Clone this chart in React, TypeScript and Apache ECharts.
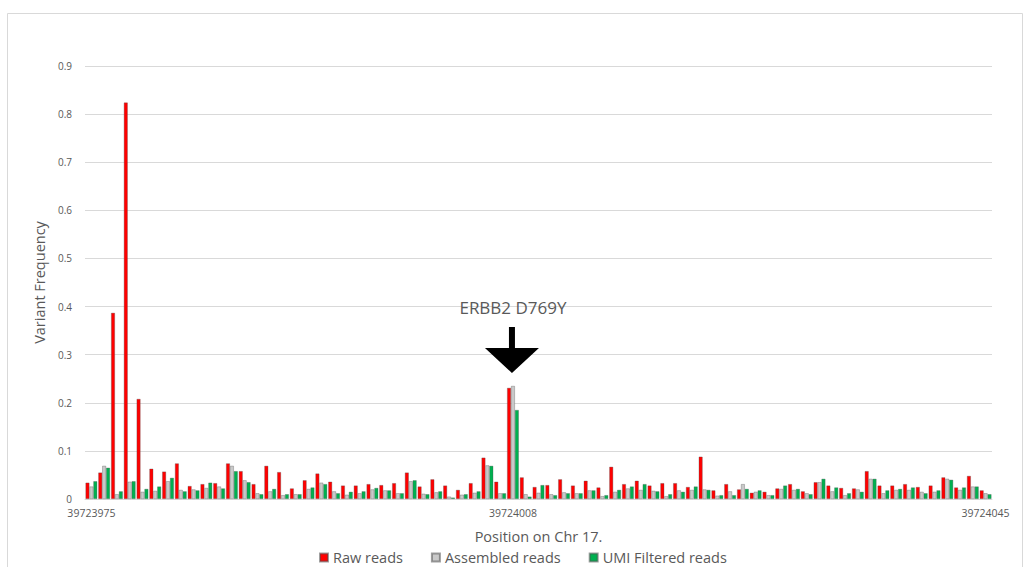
import React, { useEffect, useRef } from "react";
import * as echarts from "echarts";

// Genomic positions on chromosome 17 (one category per base)
const startPos = 39723975;
const endPos = 39724045;
const positions: string[] = [];
for (let p = startPos; p <= endPos; p++) positions.push(String(p));

// Positions whose tick label is printed
const labelledPositions = ["39723975", "39724008", "39724045"];

const rawReads = [
  0.034, 0.055, 0.387, 0.824, 0.208, 0.063, 0.057, 0.074, 0.027, 0.031,
  0.033, 0.074, 0.058, 0.031, 0.069, 0.056, 0.022, 0.039, 0.053, 0.036,
  0.028, 0.028, 0.031, 0.029, 0.033, 0.055, 0.026, 0.041, 0.028, 0.019,
  0.033, 0.086, 0.036, 0.231, 0.045, 0.025, 0.029, 0.041, 0.028, 0.038,
  0.024, 0.067, 0.031, 0.038, 0.028, 0.033, 0.033, 0.025, 0.088, 0.018,
  0.031, 0.020, 0.013, 0.015, 0.022, 0.031, 0.016, 0.035, 0.028, 0.023,
  0.022, 0.058, 0.028, 0.028, 0.031, 0.025, 0.028, 0.045, 0.024, 0.048,
  0.018,
];

const assembledReads = [
  0.026, 0.069, 0.010, 0.036, 0.015, 0.017, 0.037, 0.019, 0.020, 0.023,
  0.026, 0.069, 0.039, 0.012, 0.016, 0.008, 0.010, 0.021, 0.034, 0.016,
  0.009, 0.012, 0.020, 0.018, 0.012, 0.037, 0.011, 0.014, 0.005, 0.009,
  0.013, 0.070, 0.012, 0.235, 0.010, 0.013, 0.010, 0.014, 0.012, 0.018,
  0.006, 0.015, 0.022, 0.019, 0.017, 0.006, 0.018, 0.019, 0.020, 0.007,
  0.016, 0.031, 0.015, 0.008, 0.021, 0.019, 0.012, 0.035, 0.016, 0.008,
  0.020, 0.042, 0.012, 0.019, 0.019, 0.015, 0.015, 0.042, 0.019, 0.026,
  0.012,
];

const umiFilteredReads = [
  0.037, 0.065, 0.016, 0.037, 0.021, 0.026, 0.044, 0.016, 0.018, 0.034,
  0.022, 0.058, 0.035, 0.010, 0.021, 0.010, 0.010, 0.024, 0.031, 0.012,
  0.015, 0.016, 0.023, 0.018, 0.012, 0.039, 0.010, 0.016, 0.003, 0.010,
  0.016, 0.069, 0.012, 0.185, 0.005, 0.029, 0.008, 0.012, 0.012, 0.018,
  0.008, 0.019, 0.026, 0.031, 0.016, 0.010, 0.015, 0.026, 0.019, 0.008,
  0.008, 0.021, 0.018, 0.008, 0.028, 0.021, 0.010, 0.042, 0.024, 0.012,
  0.015, 0.042, 0.018, 0.021, 0.024, 0.012, 0.018, 0.040, 0.024, 0.026,
  0.010,
];

const seriesNames = ["Raw reads", "Assembled reads", "UMI Filtered reads"];
const seriesColors = ["#ff0000", "#c9c9c9", "#00b050"];

// Highlighted variant
const variantLabel = "ERBB2 D769Y";
const variantPosition = "39724008";

const FONT = "'Open Sans', 'Noto Sans', sans-serif";
const TEXT_COLOR = "#595959";

export default function App() {
  const ref = useRef<HTMLDivElement>(null);

  useEffect(() => {
    if (!ref.current) return;
    const chart = echarts.init(ref.current, undefined, { renderer: "svg" });

    const values = [rawReads, assembledReads, umiFilteredReads];

    chart.setOption({
      animation: false,
      backgroundColor: "#ffffff",
      textStyle: { fontFamily: FONT },
      grid: { left: 85, right: 38, top: 66, bottom: 68, containLabel: false },
      legend: {
        data: seriesNames,
        left: 314,
        top: 545,
        icon: "rect",
        itemWidth: 8,
        itemHeight: 8,
        itemGap: 28,
        textStyle: { color: TEXT_COLOR, fontSize: 14.5, fontFamily: FONT },
      },
      xAxis: {
        type: "category",
        data: positions,
        name: "Position on Chr 17.",
        nameLocation: "middle",
        nameGap: 30,
        nameTextStyle: { color: TEXT_COLOR, fontSize: 14.5, fontFamily: FONT },
        axisLine: { lineStyle: { color: "#d9d9d9", width: 1 } },
        axisTick: { show: false },
        axisLabel: {
          color: TEXT_COLOR,
          fontSize: 10.5,
          margin: 8,
          interval: (_i: number, v: string) => labelledPositions.includes(v),
        },
        splitLine: { show: false },
      },
      yAxis: {
        type: "value",
        min: 0,
        max: 0.9,
        interval: 0.1,
        name: "Variant Frequency",
        nameLocation: "middle",
        nameGap: 35,
        nameTextStyle: { color: TEXT_COLOR, fontSize: 14.5, fontFamily: FONT },
        axisLine: { show: false },
        axisTick: { show: false },
        axisLabel: {
          color: TEXT_COLOR,
          fontSize: 10,
          margin: 13,
          formatter: (v: number) => String(Math.round(v * 10) / 10),
        },
        splitLine: { lineStyle: { color: "#d9d9d9", width: 1 } },
      },
      series: seriesNames.map((name, i) => ({
        name,
        type: "bar",
        data: values[i],
        barGap: "0%",
        barCategoryGap: "8%",
        itemStyle: {
          color: seriesColors[i],
          borderColor: "rgba(80,80,80,0.55)",
          borderWidth: 0.6,
        },
      })),
    });

    // Arrow and label above the highlighted position
    const idx = positions.indexOf(variantPosition);
    const peak = Math.max(rawReads[idx], assembledReads[idx], umiFilteredReads[idx]);
    const [px, py] = chart.convertToPixel({ xAxisIndex: 0, yAxisIndex: 0 }, [idx, peak]) as number[];

    chart.setOption({
      graphic: [
        {
          type: "rect",
          silent: true,
          z: -1,
          shape: { x: 7.5, y: 13.5, width: 1015, height: 620 },
          style: { fill: "none", stroke: "#d9d9d9", lineWidth: 1 },
        },
        {
          type: "polygon",
          silent: true,
          shape: {
            points: [
              [px - 1, py - 13],
              [px - 28, py - 38],
              [px - 4, py - 38],
              [px - 4, py - 59],
              [px + 2, py - 59],
              [px + 2, py - 38],
              [px + 26, py - 38],
            ],
          },
          style: { fill: "#000000" },
        },
        {
          type: "text",
          silent: true,
          x: px,
          y: py - 78,
          style: {
            text: variantLabel,
            fill: TEXT_COLOR,
            font: `17px ${FONT}`,
            align: "center",
            verticalAlign: "middle",
          },
        },
      ],
    });

    return () => chart.dispose();
  }, []);

  return (
    <div
      ref={ref}
      style={{ position: "fixed", left: 0, top: 0, width: 1030, height: 567 }}
    />
  );
}
